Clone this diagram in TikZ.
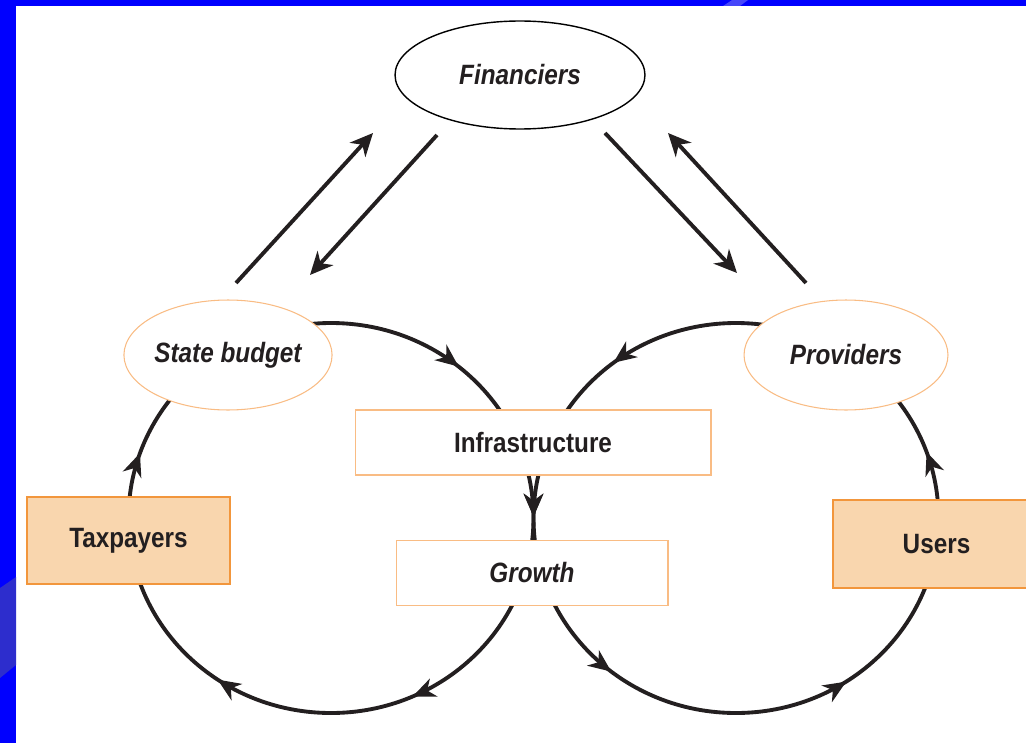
\documentclass[tikz,border=0pt]{standalone}
\usepackage{fontspec}
\setmainfont{Liberation Sans}[FakeStretch=0.87]
\usetikzlibrary{arrows.meta, decorations.markings, shapes.geometric}
\definecolor{ink}{HTML}{231F20}
\definecolor{slide}{HTML}{0000FF}
\definecolor{stripe}{HTML}{4646FA}
\definecolor{stripedark}{HTML}{2D2DCD}
\definecolor{peach}{HTML}{F9D6AE}
\definecolor{boxorange}{HTML}{F2963C}
\definecolor{paleorange}{HTML}{F9BC84}
\newcommand{\diagfont}{\fontsize{15.9}{19}\selectfont\bfseries}
\tikzset{flow/.style={line width=2.2pt, ink}}
\tikzset{fwd at/.style={postaction={decorate, decoration={markings, mark=at position #1 with {\arrow{Stealth[length=13pt, width=11pt, inset=4pt]}}}}}}
\tikzset{back at/.style={postaction={decorate, decoration={markings, mark=at position #1 with {\arrowreversed{Stealth[length=13pt, width=11pt, inset=4pt]}}}}}}
\tikzset{link/.style={line width=2.2pt, ink, -{Stealth[length=13pt, width=12pt, inset=4pt]}}}
\tikzset{oval/.style={ellipse, draw=paleorange, line width=0.6pt, fill=white, inner sep=0pt, minimum width=4.08cm, minimum height=2.2cm, text=ink, font=\diagfont\itshape}}
\tikzset{plainbox/.style={rectangle, draw=paleorange, line width=0.6pt, fill=white, inner sep=0pt, minimum height=1.31cm, text=ink, font=\diagfont}}
\tikzset{actor/.style={rectangle, draw=boxorange, line width=0.9pt, fill=peach, inner sep=0pt, text=ink, font=\diagfont}}

\begin{document}
\begin{tikzpicture}[x=0.02cm, y=-0.02cm]
		% Frame
		\useasboundingbox (0,0) rectangle (1026,743);
		\clip (0,0) rectangle (1026,743);
		\fill[slide] (0,0) rectangle (16,743);
		\fill[slide] (0,0) rectangle (1026,6);
		\fill[stripe] (732,0) -- (748,0) -- (740,6) -- (723,6) -- cycle;
		\fill[stripedark] (0,588) -- (16,577) -- (16,665) -- (0,678) -- cycle;

		% Coordinates
		\coordinate (L) at (331,518);
		\coordinate (R) at (736,518);
		\coordinate (B1) at (236,283);
		\coordinate (F1) at (373,133);
		\coordinate (F2) at (437,135);
		\coordinate (B2) at (310,275);
		\coordinate (F3) at (605,133);
		\coordinate (P1) at (737,273);
		\coordinate (P2) at (806,283);
		\coordinate (F4) at (668,133);

		% Loops
		\draw[flow, fwd at=0.183, fwd at=0.346, fwd at=0.553, fwd at=0.86, fwd at=0.999] (L) ellipse [x radius=202.5, y radius=195];
		\draw[flow, back at=0.157, back at=0.357, back at=0.501, back at=0.645, back at=0.946] (R) ellipse [x radius=202.5, y radius=195];

		% Nodes
		\node[oval, draw=black, line width=0.8pt, minimum width=5cm, minimum height=2.16cm] (fin) at (520,75) {Financiers};
		\node[oval] (budget) at (228,355) {State budget};
		\node[oval] (prov) at (846,355) {Providers};
		\node[plainbox, minimum width=7.12cm, minimum height=1.3cm] (infra) at (533,442.5) {Infrastructure};
		\node[plainbox, minimum width=5.44cm, font=\diagfont\itshape] (growth) at (532,573) {Growth};
		\node[actor, minimum width=4.06cm, minimum height=1.74cm] (tax) at (128.5,540.5) {Taxpayers};
		\node[actor, minimum width=4.14cm, minimum height=1.76cm] (users) at (936.5,544) {Users};

		% Money flows
		\draw[link] (B1) -- (F1);
		\draw[link] (F2) -- (B2);
		\draw[link] (F3) -- (P1);
		\draw[link] (P2) -- (F4);
	\end{tikzpicture}
\end{document}
